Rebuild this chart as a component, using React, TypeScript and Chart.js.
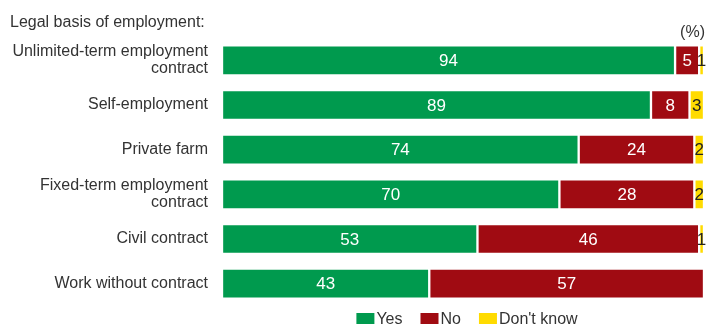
import React, { useEffect, useRef } from "react";
import { Chart, registerables } from "chart.js";

Chart.register(...registerables);

const categories: string[][] = [
  ["Unlimited-term employment", "contract"],
  ["Self-employment"],
  ["Private farm"],
  ["Fixed-term employment", "contract"],
  ["Civil contract"],
  ["Work without contract"],
];
const yesValues = [94, 89, 74, 70, 53, 43];
const noValues = [5, 8, 24, 28, 46, 57];
const dontKnowValues = [1, 3, 2, 2, 1, 0];
const seriesNames = ["Yes", "No", "Don't know"];
const seriesColors = ["#009A4E", "#A00B12", "#FFDB00"];
const labelColors = ["#ffffff", "#ffffff", "#222222"];
const titleText = "Legal basis of employment:";
const unitText = "(%)";

const FONT = "Arial, 'Liberation Sans', sans-serif";

const overlayPlugin = {
  id: "overlay",
  afterDatasetsDraw(chart: any) {
    const ctx = chart.ctx;
    const area = chart.chartArea;
    ctx.save();
    // value labels
    ctx.font = `17px ${FONT}`;
    ctx.textAlign = "center";
    ctx.textBaseline = "middle";
    chart.data.datasets.forEach((ds: any, di: number) => {
      const meta = chart.getDatasetMeta(di);
      meta.data.forEach((bar: any, i: number) => {
        const v = ds.data[i];
        if (!v) return;
        const cx = (bar.x + bar.base) / 2;
        ctx.fillStyle = labelColors[di];
        ctx.fillText(String(v), cx, bar.y + 1);
      });
    });
    // title
    ctx.fillStyle = "#333333";
    ctx.font = `16px ${FONT}`;
    ctx.textAlign = "left";
    ctx.textBaseline = "alphabetic";
    ctx.fillText(titleText, 10, 27);
    ctx.textAlign = "right";
    ctx.fillText(unitText, 705, 37);
    // legend
    const boxW = 18;
    const boxH = 11;
    const gapText = 2;
    const gapItem = 18;
    const widths = seriesNames.map((n) => boxW + gapText + ctx.measureText(n).width);
    const total = widths.reduce((a, b) => a + b, 0) + gapItem * (seriesNames.length - 1);
    let x = (area.left + area.right) / 2 - total / 2 + 4;
    const yBox = 313;
    ctx.textAlign = "left";
    ctx.textBaseline = "middle";
    seriesNames.forEach((n, i) => {
      ctx.fillStyle = seriesColors[i];
      ctx.fillRect(x, yBox, boxW, boxH);
      ctx.fillStyle = "#333333";
      ctx.fillText(n, x + boxW + gapText, yBox + boxH / 2 + 1);
      x += widths[i] + gapItem;
    });
    ctx.restore();
  },
};

export default function App() {
  const ref = useRef<HTMLCanvasElement>(null);
  useEffect(() => {
    if (!ref.current) return;
    const series = [yesValues, noValues, dontKnowValues];
    const chart = new Chart(ref.current, {
      type: "bar",
      data: {
        labels: categories as any,
        datasets: series.map((d, i) => ({
          label: seriesNames[i],
          data: d,
          backgroundColor: seriesColors[i],
          borderColor: "#ffffff",
          borderWidth: 1.5,
          borderSkipped: false,
          barThickness: 30,
        })),
      },
      options: {
        indexAxis: "y",
        animation: false,
        responsive: false,
        maintainAspectRatio: false,
        layout: { padding: { top: 38, bottom: 21, left: 0, right: 2 } },
        plugins: {
          legend: { display: false },
          tooltip: { enabled: false },
          title: { display: false },
        },
        scales: {
          x: {
            stacked: true,
            min: 0,
            max: 100,
            display: false,
          },
          y: {
            stacked: true,
            grid: { display: false, drawTicks: false },
            border: { display: false },
            ticks: {
              color: "#333333",
              font: { family: FONT, size: 16, lineHeight: 1.05 },
              padding: 14,
            },
            afterFit(scale: any) {
              scale.width = 222;
              scale.paddingTop = 0;
              scale.paddingBottom = 0;
            },
          },
        },
      },
      plugins: [overlayPlugin],
    });
    return () => chart.destroy();
  }, []);
  return (
    <div style={{ position: "fixed", left: 0, top: 0, width: 706, height: 327, background: "#fff" }}>
      <canvas ref={ref} width={706} height={327} style={{ width: 706, height: 327 }} />
    </div>
  );
}
